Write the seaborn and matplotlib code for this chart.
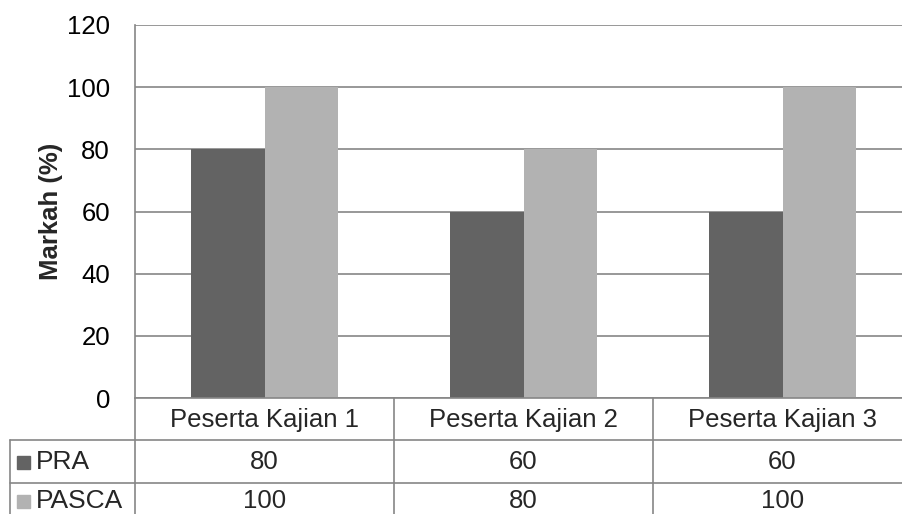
import matplotlib
matplotlib.use("Agg")
import matplotlib.pyplot as plt
import matplotlib.transforms as mtransforms
from matplotlib.lines import Line2D
from matplotlib.patches import Rectangle
import pandas as pd
import seaborn as sns

# data
categories = ["Peserta Kajian 1", "Peserta Kajian 2", "Peserta Kajian 3"]
series_names = ["PRA", "PASCA"]
pra_values = [80, 60, 60]
pasca_values = [100, 80, 100]
y_ticks = [0, 20, 40, 60, 80, 100, 120]

colors = ["#636363", "#b2b2b2"]
grid_col = "#868686"
W, H = 902, 514
FS = 18.5

df = pd.DataFrame({
    "cat": categories * 2,
    "series": [series_names[0]] * 3 + [series_names[1]] * 3,
    "val": pra_values + pasca_values,
})

sns.set_theme(style="white")
plt.rcParams["font.family"] = ["Liberation Sans", "DejaVu Sans"]

fig = plt.figure(figsize=(W / 100, H / 100), dpi=100)
fig.patch.set_facecolor("white")

# plot area in pixels
left, right, top, bottom = 135, 902, 25, 398
ax = fig.add_axes([left / W, 1 - bottom / H, (right - left) / W, (bottom - top) / H])

sns.barplot(data=df, x="cat", y="val", hue="series", palette=colors,
            width=0.57, saturation=1, ax=ax, legend=False, edgecolor="none")

ax.set_ylim(0, 120)
ax.set_yticks(y_ticks)
ax.set_yticklabels([str(t) for t in y_ticks], fontsize=FS)
ax.set_xlim(-0.5, (right - left) / 259 - 0.5)
ax.set_xticks([])
ax.set_xlabel("")
ax.set_ylabel("Markah (%)", fontsize=FS, fontweight="bold", labelpad=3)
ax.tick_params(axis="y", length=0, pad=18, colors="black")
ax.yaxis.grid(True, color=grid_col, linewidth=1.2)
ax.set_axisbelow(True)
for s in ["top", "right"]:
    ax.spines[s].set_visible(False)
ax.spines["left"].set_color(grid_col)
ax.spines["left"].set_linewidth(1.2)
ax.spines["bottom"].set_color(grid_col)
ax.spines["bottom"].set_linewidth(1.2)

# data table under the chart
def fy(py):
    return 1 - py / H

def fx(px):
    return px / W

row_y = [398, 440, 483, 526]
col_x = [135, 394, 653]
lkw = dict(color=grid_col, linewidth=1.2, transform=fig.transFigure)
for y in row_y[1:3]:
    fig.add_artist(Line2D([fx(10), fx(W)], [fy(y), fy(y)], **lkw))
fig.add_artist(Line2D([fx(10), fx(10)], [fy(440), fy(H)], **lkw))
for x in col_x:
    fig.add_artist(Line2D([fx(x), fx(x)], [fy(398), fy(H)], **lkw))

row_centers = [420, 462, 501]
tr = mtransforms.blended_transform_factory(ax.transData, fig.transFigure)
rows = [categories, pra_values, pasca_values]
for r, vals in enumerate(rows):
    yc = fy(row_centers[r])
    for i, v in enumerate(vals):
        ax.text(i, yc, str(v), transform=tr, ha="center", va="center",
                fontsize=FS, clip_on=False)

for r, name in enumerate(series_names):
    yc = fy(row_centers[r + 1])
    fig.add_artist(Rectangle((fx(17), yc - 6.5 / H), 13 / W, 13 / H,
                             transform=fig.transFigure, color=colors[r]))
    fig.text(fx(36), yc, name, ha="left", va="center", fontsize=FS + 0.5)

fig.savefig("out.png", dpi=100, facecolor="white")
